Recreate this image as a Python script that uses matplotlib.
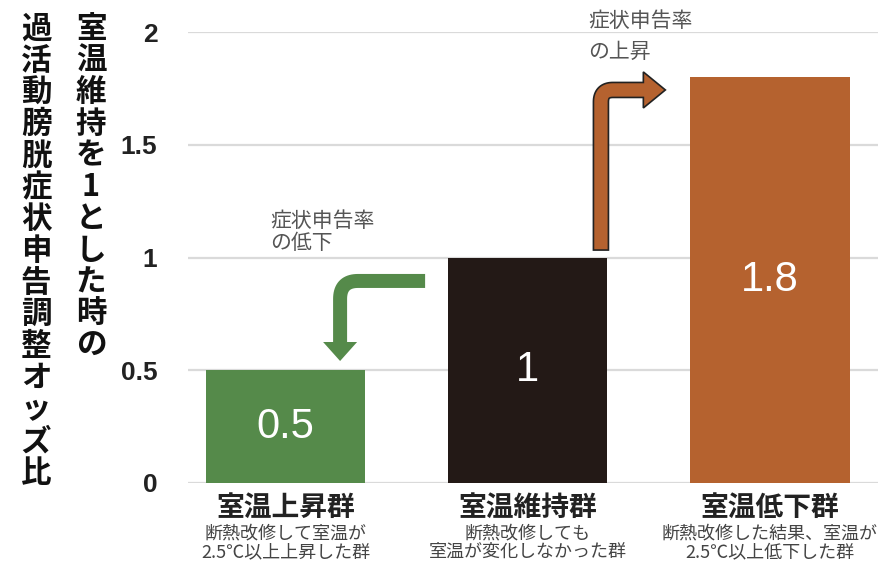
import numpy as np
import matplotlib
matplotlib.use('Agg')
import matplotlib.pyplot as plt
from matplotlib.patches import Polygon

plt.rcParams['font.family'] = ['Noto Sans CJK JP', 'DejaVu Sans']

groups = ['室温上昇群', '室温維持群', '室温低下群']
notes = ['断熱改修して室温が\n2.5℃以上上昇した群',
         '断熱改修しても\n室温が変化しなかった群',
         '断熱改修した結果、室温が\n2.5℃以上低下した群']
odds = [0.5, 1.0, 1.8]
value_labels = ['0.5', '1', '1.8']
bar_colors = ['#558a4a', '#231916', '#b5622f']
yticks = [0, 0.5, 1, 1.5, 2]
ytick_labels = ['0', '0.5', '1', '1.5', '2']
ylabel_right = '室温維持を1とした時の'
ylabel_left = '過活動膀胱症状申告調整オッズ比'

W, H = 884, 564
fig = plt.figure(figsize=(W / 100, H / 100), dpi=100)
ax = fig.add_axes([188 / W, 1 - 483 / H, 690 / W, 451 / H])

x = np.arange(len(groups))
ax.bar(x, odds, width=0.657, color=bar_colors, zorder=3)
ax.set_xlim(-0.403, 2.446)
ax.set_ylim(0, 2)

ax.set_yticks(yticks)
ax.set_yticklabels(ytick_labels, family='Liberation Sans', fontweight='bold',
                   fontsize=19, color='#222222')
ax.tick_params(axis='y', length=0, pad=22)
ax.set_xticks([])
for s in ax.spines.values():
    s.set_visible(False)
for t in yticks:
    ax.axhline(t, color='#dadada', lw=1.6, zorder=1)

for xi, v, lab in zip(x, odds, value_labels):
    ax.text(xi, v / 2, lab, ha='center', va='center', color='white',
            family='Liberation Sans', fontsize=30)

for xi, g, n in zip(x, groups, notes):
    ax.text(xi, -0.111, g, ha='center', va='center', fontsize=20,
            fontweight='bold', color='#222222', clip_on=False)
    l1, l2 = n.split('\n')
    ax.text(xi, -0.222, l1, ha='center', va='center', fontsize=13,
            color='#444444', clip_on=False)
    ax.text(xi, -0.307, l2, ha='center', va='center', fontsize=13,
            color='#444444', clip_on=False)

# vertical y-axis label, two columns read right to left
pitch = 31.7
for i, ch in enumerate(ylabel_right):
    fig.text(91 / W, 1 - (29 + i * pitch) / H, ch, ha='center', va='center',
             fontsize=22, fontweight='bold', color='#111111')
for i, ch in enumerate(ylabel_left):
    fig.text(36 / W, 1 - (29 + i * pitch) / H, ch, ha='center', va='center',
             fontsize=22, fontweight='bold', color='#111111')

# annotations
ax.text(-0.063, (483 - 221) / 225.5, '症状申告率', ha='left', va='center',
        fontsize=15, color='#555555')
ax.text(-0.063, (483 - 243) / 225.5, 'の低下', ha='left', va='center',
        fontsize=15, color='#555555')
ax.text(1.250, (483 - 21) / 225.5, '症状申告率', ha='left', va='center',
        fontsize=15, color='#555555', clip_on=False)
ax.text(1.250, (483 - 52) / 225.5, 'の上昇', ha='left', va='center',
        fontsize=15, color='#555555')


def bent_arrow(ax, start, corner, tip, width, head_w, head_len, rad, **kw):
    tr = ax.transData
    p0, pc, pt = (np.array(tr.transform(p), float) for p in (start, corner, tip))
    d1 = (pc - p0) / np.linalg.norm(pc - p0)
    d2 = (pt - pc) / np.linalg.norm(pt - pc)
    a, b = pc - d1 * rad, pc + d2 * rad
    end = pt - d2 * head_len
    pts, tans = [p0], [d1]
    for t in np.linspace(0, 1, 20):
        pts.append((1 - t) ** 2 * a + 2 * (1 - t) * t * pc + t ** 2 * b)
        tg = 2 * (1 - t) * (pc - a) + 2 * t * (b - pc)
        tans.append(tg / np.linalg.norm(tg))
    pts.append(end)
    tans.append(d2)
    pts, tans = np.array(pts), np.array(tans)
    nrm = np.column_stack([-tans[:, 1], tans[:, 0]])
    left = pts + nrm * width / 2
    right = pts - nrm * width / 2
    n_end = nrm[-1]
    head = [end + n_end * head_w / 2, pt, end - n_end * head_w / 2]
    poly = np.vstack([left, head, right[::-1]])
    poly = tr.inverted().transform(poly)
    ax.add_patch(Polygon(poly, closed=True, clip_on=False, zorder=4, **kw))


bent_arrow(ax, (0.576, 0.896), (0.225, 0.896), (0.225, 0.541),
           width=14, head_w=34, head_len=19, rad=18,
           facecolor='#558a4a', edgecolor='none')
bent_arrow(ax, (1.302, 1.033), (1.302, 1.743), (1.568, 1.743),
           width=15, head_w=36, head_len=22, rad=12,
           facecolor='#b5622f', edgecolor='#222222', linewidth=1.2)

fig.savefig('out.png', dpi=100)
